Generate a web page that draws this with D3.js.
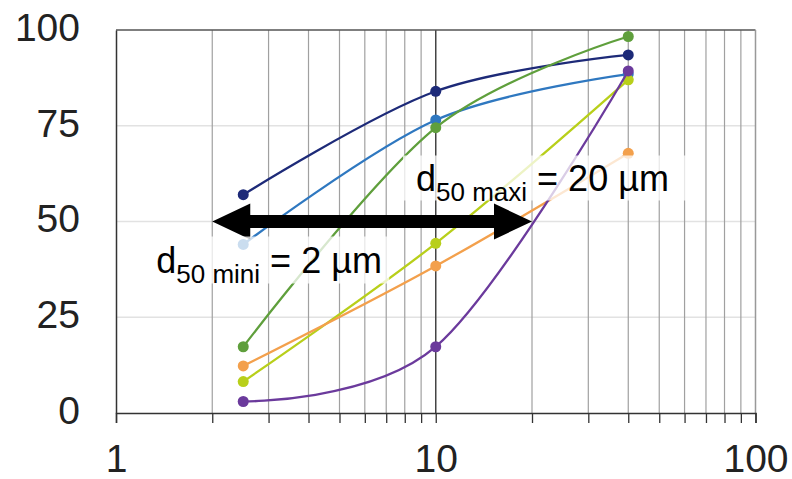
<!DOCTYPE html>
<html>
<head>
<meta charset="utf-8">
<script src="https://cdn.jsdelivr.net/npm/d3@7"></script>
<style>
  body { margin: 0; background: #fff; }
  svg { display: block; font-family: "Liberation Sans", Arial, sans-serif; }
</style>
</head>
<body>
<svg width="792" height="479"></svg>
<script>
// sizes in µm, cumulative %
const sizes = [2.5, 10, 40];
const navy   = [57, 84, 93.5];
const blue   = [44, 76.5, 88.5];
const green  = [17.3, 74.5, 98.3];
const lime   = [8.2, 44.3, 87];
const orange = [12.3, 38.4, 67.8];
const purple = [3, 17.3, 89.3];

const seriesList = [
    {name: 'navy', color: '#1d2a78', values: navy},
    {name: 'blue', color: '#2f78c0', values: blue},
    {name: 'green', color: '#5f9f3c', values: green},
    {name: 'lime', color: '#b8cf1a', values: lime},
    {name: 'orange', color: '#f3a04c', values: orange},
    {name: 'purple', color: '#6b3a9c', values: purple}
];

const xTicks = [1, 2, 3, 4, 5, 6, 7, 8, 9, 10, 20, 30, 40, 50, 60, 70, 80, 90, 100];
const xLabels = [1, 10, 100];
const yTicks = [0, 25, 50, 75, 100];

const d50Min = 2;
const d50Max = 20;
const d50 = 50;

const svg = d3.select('svg');
const plotLeft = 116, plotRight = 755.5, plotTop = 30, plotBottom = 413;

const x = d3.scaleLog().domain([1, 100]).range([plotLeft, plotRight]);
const y = d3.scaleLinear().domain([0, 100]).range([plotBottom, plotTop]);

// horizontal grid
svg.append('g')
    .selectAll('line')
    .data(yTicks.filter(v => v > 0 && v < 100))
    .join('line')
    .attr('x1', plotLeft).attr('x2', plotRight)
    .attr('y1', d => y(d)).attr('y2', d => y(d))
    .attr('stroke', '#e2e2e2')
    .attr('stroke-width', 1.5);

// vertical grid
svg.append('g')
    .selectAll('line')
    .data(xTicks.filter(v => v > 1 && v < 100))
    .join('line')
    .attr('x1', d => x(d)).attr('x2', d => x(d))
    .attr('y1', plotTop).attr('y2', plotBottom)
    .attr('stroke', d => d === 10 ? '#444' : '#a0a0a0')
    .attr('stroke-width', d => d === 10 ? 1.5 : 1.2);

// frame top / right
svg.append('line')
    .attr('x1', plotLeft).attr('x2', plotRight).attr('y1', plotTop).attr('y2', plotTop)
    .attr('stroke', '#555').attr('stroke-width', 1.5);
svg.append('line')
    .attr('x1', plotRight).attr('x2', plotRight).attr('y1', plotTop).attr('y2', plotBottom)
    .attr('stroke', '#999').attr('stroke-width', 1.5);

// x axis
const xAxis = d3.axisBottom(x)
    .tickValues(xTicks)
    .tickSize(10)
    .tickPadding(21)
    .tickFormat(d => xLabels.includes(d) ? d : '');

const gx = svg.append('g')
    .attr('transform', `translate(0,${plotBottom})`)
    .call(xAxis);
gx.select('.domain').attr('stroke', '#333').attr('stroke-width', 1.5);
gx.selectAll('.tick line').attr('stroke', '#333').attr('stroke-width', 1.3);
gx.selectAll('.tick text')
    .attr('font-size', 39)
    .attr('font-family', '"Liberation Sans", Arial, sans-serif')
    .attr('fill', '#222');

// y axis
const yAxis = d3.axisLeft(y)
    .tickValues(yTicks)
    .tickSize(0)
    .tickPadding(36);

const gy = svg.append('g')
    .attr('transform', `translate(${plotLeft},0)`)
    .call(yAxis);
gy.select('.domain').attr('stroke', '#333').attr('stroke-width', 1.5);
gy.selectAll('.tick text')
    .attr('font-size', 39)
    .attr('font-family', '"Liberation Sans", Arial, sans-serif')
    .attr('fill', '#222')
    .attr('y', -2);

// series
const line = d3.line()
    .x((d, i) => x(sizes[i]))
    .y(d => y(d))
    .curve(d3.curveCardinal.tension(0));

const gs = svg.append('g');
seriesList.forEach(s => {
    gs.append('path')
        .attr('d', line(s.values))
        .attr('fill', 'none')
        .attr('stroke', s.color)
        .attr('stroke-width', 2.3);
    gs.selectAll(null)
        .data(s.values)
        .join('circle')
        .attr('cx', (d, i) => x(sizes[i]))
        .attr('cy', d => y(d))
        .attr('r', 5.5)
        .attr('fill', s.color);
});

// double arrow between d50 min and max
const ay = y(d50);
const x0 = x(d50Min), x1 = x(d50Max);
const headL = 38, headH = 18, shaft = 6.5;
svg.append('path')
    .attr('d', `M${x0},${ay}
                L${x0 + headL},${ay - headH}
                L${x0 + headL},${ay - shaft}
                L${x1 - headL},${ay - shaft}
                L${x1 - headL},${ay - headH}
                L${x1},${ay}
                L${x1 - headL},${ay + headH}
                L${x1 - headL},${ay + shaft}
                L${x0 + headL},${ay + shaft}
                L${x0 + headL},${ay + headH}Z`)
    .attr('fill', '#000');

// labels with translucent white boxes
function label(bx, by, bw, bh, tx, ty, sub, rest) {
    svg.append('rect')
        .attr('x', bx).attr('y', by)
        .attr('width', bw).attr('height', bh)
        .attr('fill', '#fff').attr('fill-opacity', 0.75);
    const t = svg.append('text')
        .attr('x', tx).attr('y', ty)
        .attr('font-size', 36)
        .attr('fill', '#000');
    t.append('tspan').text('d');
    t.append('tspan').attr('font-size', 26).attr('dy', 10).text(sub);
    t.append('tspan').attr('dy', -10).text(' ' + rest);
}

label(x0 - 63, ay + 15, 240, 47, x0 - 56, ay + 51, '50 mini', '= 2 µm');
label(x1 - 129, ay - 66, 284, 45, x1 - 116, ay - 31, '50 maxi', '= 20 µm');
</script>
</body>
</html>
